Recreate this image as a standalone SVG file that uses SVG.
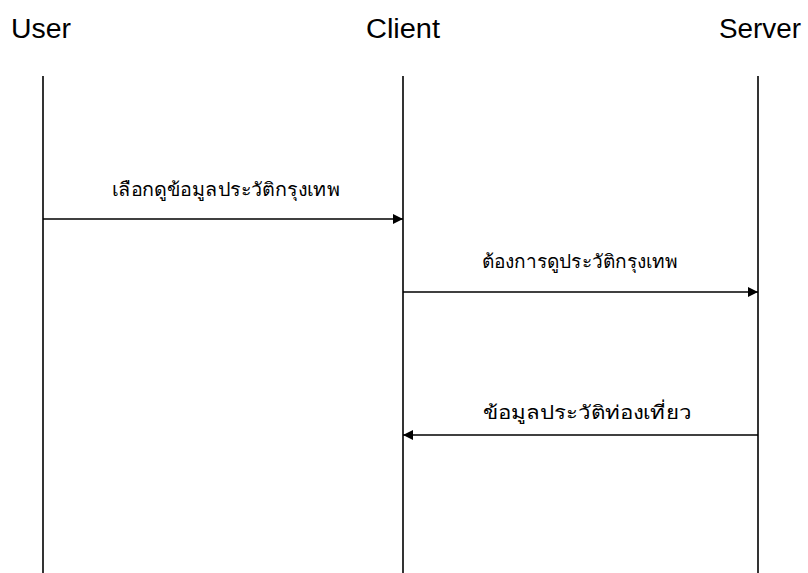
<svg xmlns="http://www.w3.org/2000/svg" width="808" height="573" viewBox="0 0 808 573">
  <style>
    .title { font-family: "Liberation Sans", Arial, sans-serif; font-size: 27px; fill: #000; }
    .msg { font-family: "Noto Sans", "DejaVu Sans", sans-serif; font-size: 19px; fill: #000; text-anchor: middle; }
    .life { stroke: #000; stroke-width: 1.6; fill: none; }
    .arrow { stroke: #000; stroke-width: 1.4; fill: none; marker-end: url(#head); }
  </style>
  <defs>
    <marker id="head" viewBox="0 0 10 10" refX="10" refY="5" markerWidth="11" markerHeight="10" markerUnits="userSpaceOnUse" orient="auto">
      <path d="M0,0 L10,5 L0,10 Z" fill="#000"/>
    </marker>
  </defs>
  <rect width="808" height="573" fill="#fff"/>

  <!-- lifelines with their headings -->
  <g id="user">
    <text class="title" x="11" y="38" textLength="60" lengthAdjust="spacingAndGlyphs">User</text>
    <line class="life" x1="43" y1="76" x2="43" y2="573"/>
  </g>
  <g id="client">
    <text class="title" x="366" y="38" textLength="74" lengthAdjust="spacingAndGlyphs">Client</text>
    <line class="life" x1="403" y1="76" x2="403" y2="573"/>
  </g>
  <g id="server">
    <text class="title" x="719" y="38" textLength="82" lengthAdjust="spacingAndGlyphs">Server</text>
    <line class="life" x1="758" y1="76" x2="758" y2="573"/>
  </g>

  <!-- messages -->
  <g id="connectors">
    <line class="arrow" x1="43" y1="219" x2="403" y2="219"/>
    <text class="msg" x="226" y="196" textLength="228" lengthAdjust="spacingAndGlyphs">เลือกดูข้อมูลประวัติกรุงเทพ</text>
    <line class="arrow" x1="403" y1="292" x2="758" y2="292"/>
    <text class="msg" x="580" y="268" textLength="196" lengthAdjust="spacingAndGlyphs">ต้องการดูประวัติกรุงเทพ</text>
    <line class="arrow" x1="758" y1="435" x2="403" y2="435"/>
    <text class="msg" x="587" y="419" textLength="209" lengthAdjust="spacingAndGlyphs">ข้อมูลประวัติท่องเที่ยว</text>
  </g>
</svg>
